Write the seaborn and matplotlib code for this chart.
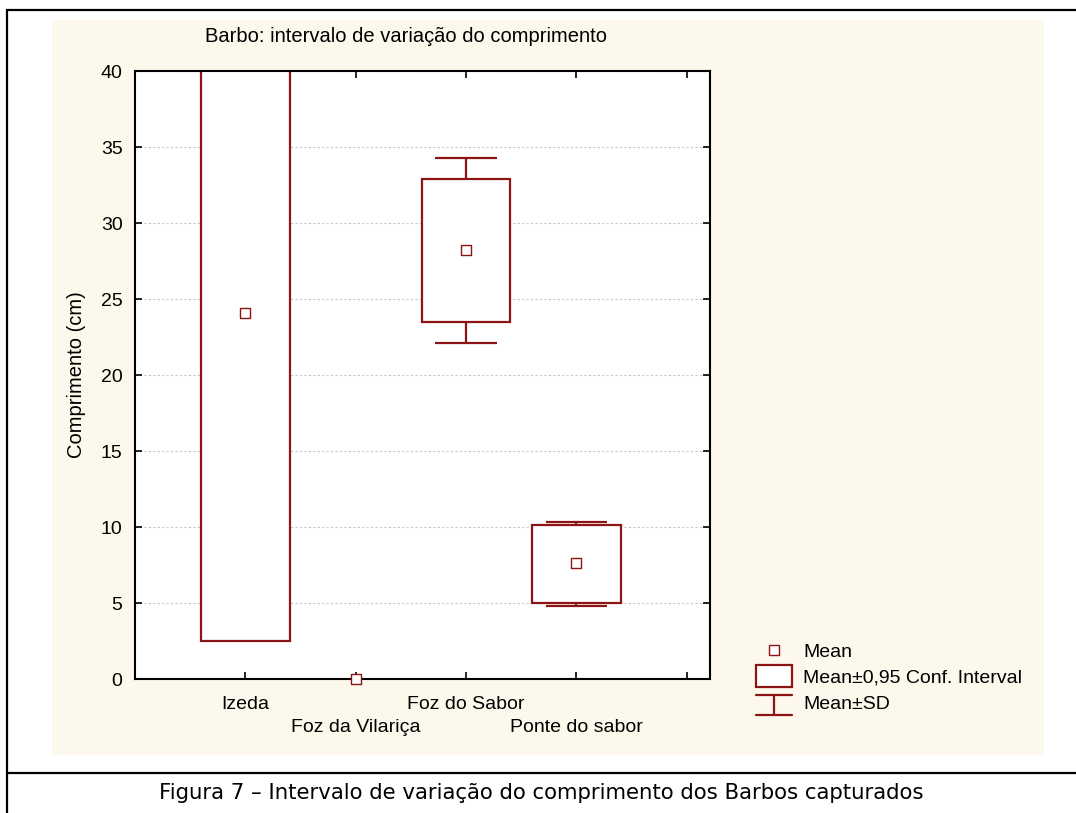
"""
Barbo: intervalo de variação do comprimento (mean, 95% CI, SD per site).
"""

import numpy as np
import pandas as pd
import matplotlib
matplotlib.use("Agg")
import matplotlib.pyplot as plt
import seaborn as sns
from matplotlib.lines import Line2D
from matplotlib.patches import Rectangle
from matplotlib.legend_handler import HandlerBase

# ============================================================
# Data
# ============================================================
SITES = ["Izeda", "Foz da Vilariça", "Foz do Sabor", "Ponte do sabor"]
MEAN = [24.1, 0.0, 28.2, 7.6]
CI_LOW = [2.5, 0.0, 23.5, 5.0]
CI_HIGH = [45.7, 0.0, 32.9, 10.1]
SD_LOW = [21.7, 0.0, 22.1, 4.8]
SD_HIGH = [26.5, 0.0, 34.3, 10.3]

TITLE = "Barbo: intervalo de variação do comprimento"
YLABEL = "Comprimento (cm)"
CAPTION = "Figura 7 – Intervalo de variação do comprimento dos Barbos capturados"
LEGEND_LABELS = ["Mean", "Mean±0,95 Conf. Interval", "Mean±SD"]

RED = "#8C1414"
PANEL = "#FDF8EC"
W, H = 1076, 813
FS = 14

df = pd.DataFrame({
    "site": SITES, "mean": MEAN, "ci_lo": CI_LOW, "ci_hi": CI_HIGH,
    "sd_lo": SD_LOW, "sd_hi": SD_HIGH,
})
df["x"] = np.arange(len(df))

# ============================================================
# Style
# ============================================================
sns.set_style("ticks")
plt.rcParams["font.family"] = ["Liberation Sans", "DejaVu Sans"]
plt.rcParams.update({
    "font.size": FS,
    "text.color": "black",
    "axes.labelcolor": "black",
    "xtick.color": "black",
    "ytick.color": "black",
})


class SDHandler(HandlerBase):
    def create_artists(self, legend, orig_handle, xdescent, ydescent,
                       width, height, fontsize, trans):
        x0, x1 = -xdescent, -xdescent + width
        cx = (x0 + x1) / 2
        top, bot = height * 1.0, -height * 0.45
        kw = dict(color=RED, lw=1.6, transform=trans)
        return [Line2D([x0, x1], [top, top], **kw),
                Line2D([cx, cx], [bot, top], **kw),
                Line2D([x0, x1], [bot, bot], **kw)]


class BoxHandler(HandlerBase):
    def create_artists(self, legend, orig_handle, xdescent, ydescent,
                       width, height, fontsize, trans):
        r = Rectangle((-xdescent, -height * 0.35), width, height * 1.65,
                      facecolor="white", edgecolor=RED, lw=1.6, transform=trans)
        return [r]


# ============================================================
# Figure
# ============================================================
fig = plt.figure(figsize=(W / 100, H / 100), dpi=100)
fig.patch.set_facecolor("white")

# beige panel behind the chart
fig.patches.append(Rectangle((52 / W, 1 - 755 / H), (1044 - 52) / W, (755 - 20) / H,
                             transform=fig.transFigure, facecolor=PANEL,
                             edgecolor="none", zorder=-2))
# document frame + caption separator
for xs, ys in [([7, 7], [10, H]), ([7, W], [10, 10]), ([7, W], [773, 773])]:
    fig.add_artist(Line2D([x / W for x in xs], [1 - y / H for y in ys],
                          color="black", lw=1.6, transform=fig.transFigure))

ax = fig.add_axes([135 / W, 1 - 679 / H, (710 - 135) / W, (679 - 71) / H])
ax.set_facecolor("white")

# CI boxes
box_w = 0.8
has_box = df["ci_hi"] > df["ci_lo"]
ax.bar(df["x"][has_box], (df["ci_hi"] - df["ci_lo"])[has_box],
       bottom=df["ci_lo"][has_box], width=box_w, facecolor="white",
       edgecolor=RED, linewidth=1.6, zorder=2)

# SD whiskers (only where they reach beyond the box)
cap_w = 0.56
for _, r in df.iterrows():
    if r["sd_hi"] > r["ci_hi"]:
        ax.vlines(r["x"], r["ci_hi"], r["sd_hi"], color=RED, lw=1.6, zorder=2)
        ax.hlines(r["sd_hi"], r["x"] - cap_w / 2, r["x"] + cap_w / 2, color=RED, lw=1.6, zorder=2)
    if r["sd_lo"] < r["ci_lo"]:
        ax.vlines(r["x"], r["sd_lo"], r["ci_lo"], color=RED, lw=1.6, zorder=2)
        ax.hlines(r["sd_lo"], r["x"] - cap_w / 2, r["x"] + cap_w / 2, color=RED, lw=1.6, zorder=2)

# means
sns.scatterplot(data=df, x="x", y="mean", ax=ax, marker="s", s=45,
                facecolor="white", edgecolor=RED, linewidth=1.0,
                zorder=4, clip_on=False, legend=False)

ax.set_xlim(-1, 4.21)
ax.set_ylim(0, 40)
ax.set_yticks(np.arange(0, 41, 5))
ax.set_xticks(np.arange(len(SITES) + 1))
ax.set_xticklabels(SITES + [""])
ax.tick_params(direction="in", top=True, right=True, length=5, width=1.2,
               labelsize=FS, colors="black")
ax.tick_params(axis="y", pad=9)
# staggered category labels
for i, tick in enumerate(ax.xaxis.get_major_ticks()):
    tick.set_pad(12 if i % 2 == 0 else 29)
ax.grid(axis="y", linestyle=(0, (2, 2)), color="#C8C8C8", lw=0.8)
ax.set_axisbelow(True)
for sp in ax.spines.values():
    sp.set_visible(True)
    sp.set_linewidth(1.5)
    sp.set_color("black")
ax.set_xlabel("")
ax.set_ylabel(YLABEL, fontsize=14.5)
ax.yaxis.set_label_coords(-0.085, 0.5)

fig.text(205 / W, 1 - 37 / H, TITLE, ha="left", va="center", fontsize=14.5)

# legend
h_mean = Line2D([], [], marker="s", ls="none", mfc="white", mec=RED, ms=6.5, mew=1.0)
h_box = Rectangle((0, 0), 1, 1)
h_sd = Line2D([], [])
ax.legend([h_mean, h_box, h_sd], LEGEND_LABELS,
          handler_map={Rectangle: BoxHandler(), h_sd: SDHandler()},
          loc="upper left", bbox_to_anchor=(756 / W, 1 - 643 / H),
          bbox_transform=fig.transFigure, frameon=False, borderpad=0,
          borderaxespad=0, handlelength=1.86, handletextpad=0.57,
          labelspacing=0.43, fontsize=FS)

fig.text(541 / W, 1 - 793 / H, CAPTION, ha="center", va="center",
         fontsize=15.3, family="DejaVu Sans")

fig.savefig("out.png", dpi=100)
